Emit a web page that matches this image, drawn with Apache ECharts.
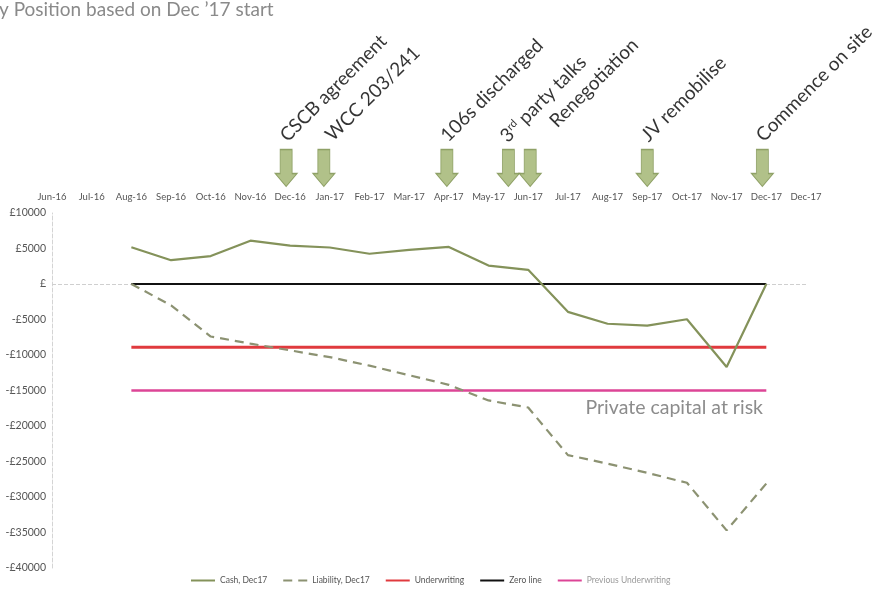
<!DOCTYPE html>
<html>
<head>
<meta charset="utf-8">
<style>
  html, body { margin: 0; padding: 0; background: #ffffff; }
  #chart { width: 874px; height: 594px; }
</style>
<script src="https://cdn.jsdelivr.net/npm/echarts@6/dist/echarts.min.js"></script>
</head>
<body>
<div id="chart"></div>
<script>
// Month labels along the top axis
const months = ['Jun-16', 'Jul-16', 'Aug-16', 'Sep-16', 'Oct-16', 'Nov-16', 'Dec-16', 'Jan-17',
  'Feb-17', 'Mar-17', 'Apr-17', 'May-17', 'Jun-17', 'Jul-17', 'Aug-17', 'Sep-17', 'Oct-17',
  'Nov-17', 'Dec-17', 'Dec-17'];

// Monthly cash position (£)
const cash = [null, null, 5180, 3350, 3930, 6100, 5410, 5140, 4260, 4800, 5220, 2600, 2000,
  -3920, -5600, -5870, -4960, -11680, 0, null];

// Accumulated liability (£)
const liability = [null, null, 0, -3000, -7400, -8400, -9350, -10300, -11500, -12850, -14200,
  -16400, -17400, -24100, -25300, -26600, -28000, -34700, -28100, null];

// Flat reference levels (£), drawn from Aug-16 to Dec-17
const underwritingLevel = -8900;
const zeroLevel = 0;
const previousUnderwritingLevel = -15000;
const levelFrom = 2;   // Aug-16
const levelTo = 18;    // Dec-17

// Y axis range
const yMin = -40000, yMax = 10000, yStep = 5000;

// Milestones marked with arrows above the timeline (month index)
const milestones = ['CSCB agreement', 'WCC 203/241', '106s discharged', '3rd party talks',
  'Renegotiation', 'JV remobilise', 'Commence on site'];
const milestoneAt = [5.9, 6.85, 9.95, 11.5, 12.05, 15, 17.9];

const noteText = 'Private capital at risk';
const titleText = 'y Position based on Dec \u201917 start';

const olive = '#84925a';
const oliveDash = '#8c9272';
const font = 'Lato, "Open Sans", sans-serif';

function levelSeries(v) {
  return [[levelFrom, v], [levelTo, v]];
}

function poundLabel(v) {
  if (v === 0) return '\u00a3';
  return (v < 0 ? '-\u00a3' : '\u00a3') + Math.abs(v);
}

// Label placement for the rotated milestone captions
const labelOffset = [4, -8];
const labelNudge = { 'WCC 203/241': [10, -3], '3rd party talks': [2, -9], 'Renegotiation': [32, 0] };

const arrowPath = 'path://M5,0 L17,0 L17,24 L22,24 L11,37 L0,24 L5,24 Z';

const chart = echarts.init(document.getElementById('chart'));

chart.setOption({
  animation: false,
  title: {
    text: titleText,
    left: -1, top: 0, padding: 0,
    textStyle: { fontFamily: font, fontSize: 19, fontWeight: 'normal', color: '#8a8a8a' }
  },
  grid: [
    { left: 52, right: 68, top: 213, bottom: 26 },
    { left: 52, right: 68, top: 148, height: 40 }
  ],
  xAxis: [
    {
      type: 'category', gridIndex: 0, position: 'top', boundaryGap: false,
      data: months,
      axisLine: { show: false }, axisTick: { show: false },
      axisLabel: { interval: 0, margin: 11, fontSize: 9.5, color: '#555', fontFamily: font }
    },
    { type: 'value', gridIndex: 1, min: 0, max: months.length - 1, show: false }
  ],
  yAxis: [
    {
      type: 'value', gridIndex: 0, min: yMin, max: yMax, interval: yStep,
      axisLine: { show: true, lineStyle: { color: '#d4d4d4', type: 'dashed', width: 1 } },
      axisTick: { show: false },
      splitLine: { show: false },
      axisLabel: { margin: 6, fontSize: 10.5, color: '#555', fontFamily: font, formatter: poundLabel }
    },
    { type: 'value', gridIndex: 1, min: 0, max: 1, show: false }
  ],
  legend: {
    left: 185, bottom: 4,
    itemWidth: 24, itemHeight: 10, itemGap: 15,
    itemStyle: { opacity: 0 },
    textStyle: { fontSize: 8.5, color: '#555', fontFamily: font },
    data: [
      { name: 'Cash, Dec17' },
      { name: 'Liability, Dec17' },
      { name: 'Underwriting' },
      { name: 'Zero line' },
      { name: 'Previous Underwriting', textStyle: { color: '#9a9a9a' } }
    ]
  },
  series: [
    {
      name: 'Previous Underwriting', type: 'line', xAxisIndex: 0, yAxisIndex: 0,
      data: levelSeries(previousUnderwritingLevel),
      symbol: 'none', z: 3,
      lineStyle: { color: '#dc4596', width: 2.5 }, itemStyle: { color: '#dc4596' }
    },
    {
      name: 'Underwriting', type: 'line', xAxisIndex: 0, yAxisIndex: 0,
      data: levelSeries(underwritingLevel),
      symbol: 'none', z: 3,
      lineStyle: { color: '#e03a3e', width: 3 }, itemStyle: { color: '#e03a3e' }
    },
    {
      name: 'Zero line', type: 'line', xAxisIndex: 0, yAxisIndex: 0,
      data: levelSeries(zeroLevel),
      symbol: 'none', z: 4,
      lineStyle: { color: '#111', width: 2 }, itemStyle: { color: '#111' },
      markLine: {
        silent: true, symbol: 'none', z: 1,
        label: { show: false },
        lineStyle: { color: '#cfcfcf', type: 'dashed', width: 1 },
        data: [{ yAxis: zeroLevel }]
      }
    },
    {
      name: 'Liability, Dec17', type: 'line', xAxisIndex: 0, yAxisIndex: 0,
      data: liability,
      symbol: 'none', z: 5,
      lineStyle: { color: oliveDash, width: 2.2, type: [9, 6] }, itemStyle: { color: oliveDash }
    },
    {
      name: 'Cash, Dec17', type: 'line', xAxisIndex: 0, yAxisIndex: 0,
      data: cash,
      symbol: 'none', z: 6,
      lineStyle: { color: olive, width: 2.2 }, itemStyle: { color: olive }
    },
    {
      name: 'Milestones', type: 'scatter', xAxisIndex: 1, yAxisIndex: 1,
      symbol: arrowPath, symbolSize: [22, 37],
      itemStyle: { color: '#9db26c', borderColor: '#7d9150', borderWidth: 1 },
      data: milestones.map((name, i) => ({
        name: name,
        value: [milestoneAt[i], 0.5],
        label: { offset: labelNudge[name] || labelOffset }
      })),
      label: {
        show: true, position: 'top', distance: 2, rotate: 45,
        align: 'left', verticalAlign: 'middle',
        fontFamily: font, fontSize: 19, color: '#000',
        formatter: p => p.name.replace(/^(\d)(rd)/, '$1{sup|$2}'),
        rich: {
          sup: { fontFamily: font, fontSize: 11, color: '#000', verticalAlign: 'top', padding: [0, 0, 8, 0] }
        }
      }
    }
  ],
  graphic: [
    {
      type: 'text', x: 763, y: 408,
      style: {
        text: noteText, textAlign: 'right', textVerticalAlign: 'middle',
        fontFamily: font, fontSize: 19.5, fill: '#8c8c8c'
      }
    }
  ]
});
</script>
</body>
</html>
